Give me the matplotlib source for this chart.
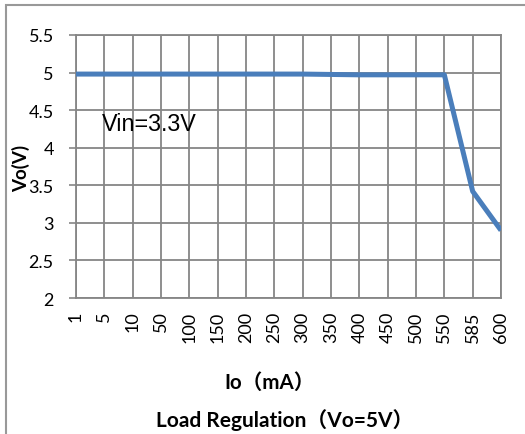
import matplotlib.pyplot as plt
from matplotlib.patches import Rectangle

io_labels = ['1', '5', '10', '50', '100', '150', '200', '250', '300', '350',
             '400', '450', '500', '550', '585', '600']
vo = [4.98, 4.98, 4.98, 4.98, 4.98, 4.98, 4.98, 4.98, 4.98, 4.975,
      4.97, 4.97, 4.97, 4.97, 3.42, 2.9]

plt.rcParams['font.family'] = ['Lato', 'Noto Sans CJK SC', 'DejaVu Sans']

fig = plt.figure(figsize=(5.25, 4.35), dpi=100)
W, H = 525, 435
ax = fig.add_axes([76 / W, 1 - 299 / H, (501 - 76) / W, (299 - 36) / H])

x = list(range(len(io_labels)))
ax.plot(x, vo, color='#4A7EBB', linewidth=3.6, solid_capstyle='butt', zorder=3)

ax.set_xlim(0, len(io_labels) - 1)
ax.set_ylim(2, 5.5)
ax.set_yticks([2, 2.5, 3, 3.5, 4, 4.5, 5, 5.5])
ax.set_yticklabels(['2', '2.5', '3', '3.5', '4', '4.5', '5', '5.5'], fontsize=13)
ax.set_xticks(x)
ax.set_xticklabels(io_labels, rotation=90, fontsize=13)
ax.tick_params(axis='x', length=0, pad=9)
ax.tick_params(axis='y', length=5, width=1.2, color='#868686', pad=11)
ax.grid(True, color='#868686', linewidth=1.3)
ax.set_axisbelow(True)
for s in ax.spines.values():
    s.set_color('#868686')
    s.set_linewidth(1.3)

ax.text(0.9, 4.32, 'Vin=3.3V', fontsize=16.8, va='center', ha='left',
        family=['Liberation Sans', 'DejaVu Sans'])

fig.text(21 / W, 1 - 168 / H, 'Vo(V)', rotation=90, fontsize=13.5, fontweight='bold',
         ha='center', va='center')
fig.text(270 / W, 1 - 383 / H, 'Io（mA）', fontsize=14.8, fontweight='bold',
         ha='center', va='center')
fig.text(285 / W, 1 - 420 / H, 'Load Regulation（Vo=5V）', fontsize=15, fontweight='bold',
         ha='center', va='center')

fig.patches.append(Rectangle((6 / W, -0.1), 1.2, 1 - 6 / H + 0.1, transform=fig.transFigure,
                             fill=False, edgecolor='#999999', linewidth=1.5))

fig.savefig('out.png', dpi=100)
